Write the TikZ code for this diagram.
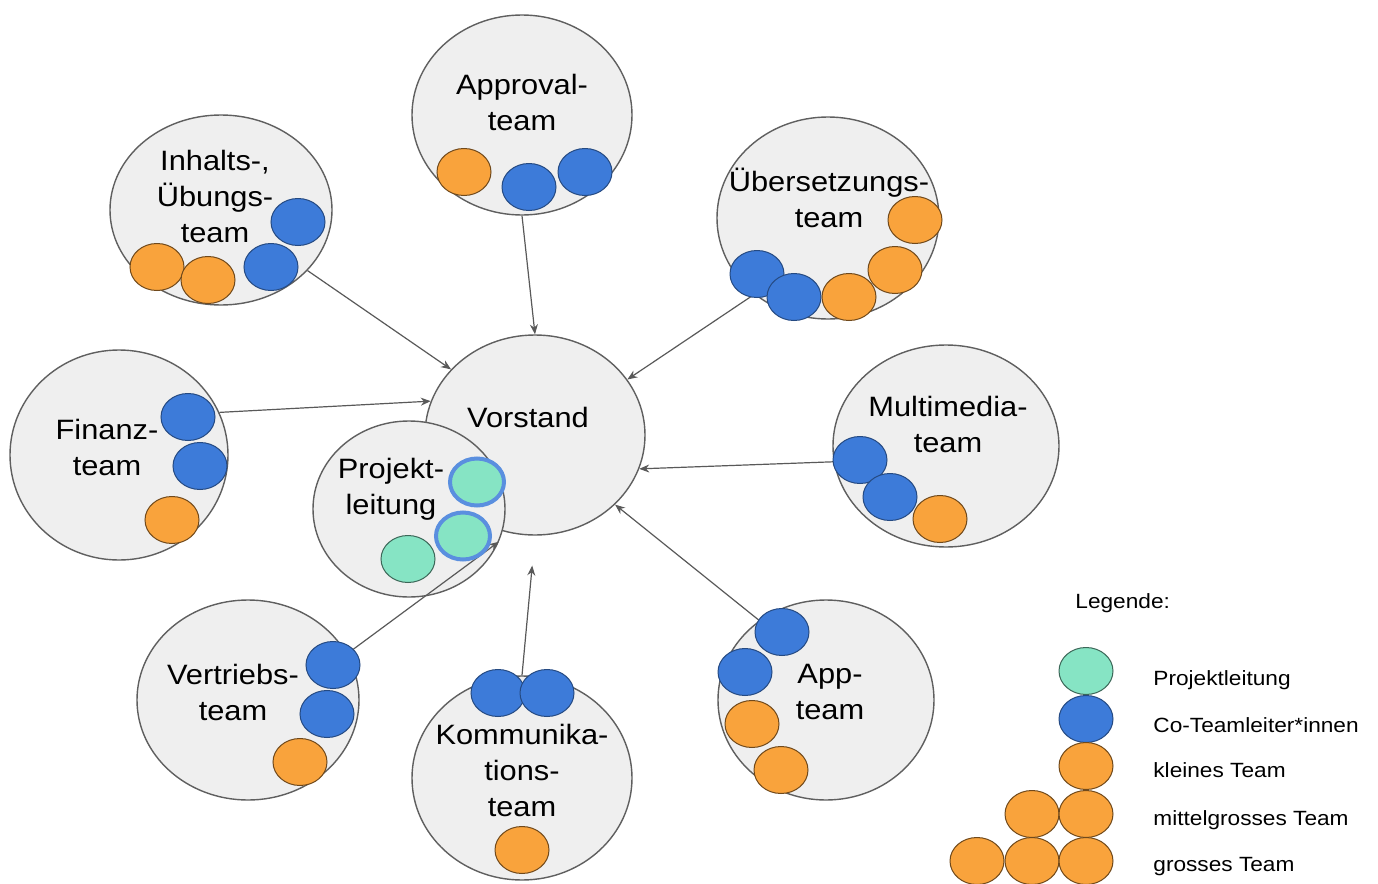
\documentclass[tikz,border=0pt]{standalone}
\usepackage{fontspec}
\setmainfont{Liberation Sans}[FakeStretch=1.1]
\usetikzlibrary{shapes.geometric,arrows.meta}

\definecolor{teamgrau}{HTML}{EFEFEF}
\definecolor{randgrau}{HTML}{5F5F5F}
\definecolor{pfeilgrau}{HTML}{595959}
\definecolor{orangeteam}{HTML}{F9A33C}
\definecolor{blauleiter}{HTML}{3D7BD9}
\definecolor{gruenpl}{HTML}{86E4C4}

\tikzset{
  team/.style={ellipse, draw=randgrau, fill=teamgrau, line width=0.7pt, inner sep=0pt},
  punkt/.style={ellipse, minimum width=27pt, minimum height=23.5pt, inner sep=0pt, line width=0.5pt},
  klein/.style={punkt, fill=orangeteam, draw=orangeteam!45!black},
  coleiter/.style={punkt, fill=blauleiter, draw=blauleiter!60!black},
  projekt/.style={punkt, fill=gruenpl, draw=gruenpl!45!black},
  projektco/.style={punkt, fill=gruenpl, draw=blauleiter!85!white, line width=2pt},
  titel/.style={align=center, font=\fontsize{14}{18}\selectfont},
  legtext/.style={anchor=base west, inner xsep=0pt, font=\fontsize{10.3}{13}\selectfont},
  pfeil/.style={draw=pfeilgrau, line width=0.6pt, -{Stealth[length=5pt,width=4pt]}}
}

\begin{document}
\begin{tikzpicture}[x=0.5pt,y=-0.5pt]
  \useasboundingbox (0,0) rectangle (1378,884);

  % Teams
  \node[team, minimum width=110pt, minimum height=100pt] (approval) at (522,115) {};
  \node[team, minimum width=111pt, minimum height=95pt] (inhalt) at (221,210) {};
  \node[team, minimum width=111pt, minimum height=101pt] (uebersetzung) at (828,218) {};
  \node[team, minimum width=109pt, minimum height=105pt] (finanz) at (119,455) {};
  \node[team, minimum width=113pt, minimum height=101pt] (multimedia) at (946,446) {};
  \node[team, minimum width=111pt, minimum height=100pt] (vertrieb) at (248,700) {};
  \node[team, minimum width=110pt, minimum height=102pt] (kommunikation) at (522,778) {};
  \node[team, minimum width=108pt, minimum height=100pt] (app) at (826,700) {};
  \node[team, minimum width=110pt, minimum height=100pt] (vorstand) at (535,435) {};
  \node[team, minimum width=96pt, minimum height=88pt] (projekt) at (409,509) {};

  % Pfeile zum Vorstand
  \draw[pfeil] (approval.south) -- (vorstand.north);
  \draw[pfeil] (inhalt.-35) -- (vorstand.142);
  \draw[pfeil] (uebersetzung.226) -- (vorstand.31);
  \draw[pfeil] (finanz.23) -- (vorstand.162);
  \draw[pfeil] (multimedia.188) -- (vorstand.342);
  \draw[pfeil] (app.130) -- (vorstand.319);
  \draw[pfeil, shorten >=15pt] (kommunikation.north) -- (vorstand.south);
  \draw[pfeil] (vertrieb.25) -- (projekt.-20);

  % Mitglieder
  \node[klein] (approval-k1) at (464,172) {};
  \foreach \x/\y [count=\i] in {529/187, 585/172}
    \node[coleiter] (approval-c\i) at (\x,\y) {};

  \foreach \x/\y [count=\i] in {157/267, 208/280}
    \node[klein] (inhalt-k\i) at (\x,\y) {};
  \foreach \x/\y [count=\i] in {298/222, 271/267}
    \node[coleiter] (inhalt-c\i) at (\x,\y) {};

  \foreach \x/\y [count=\i] in {757/274, 794/297}
    \node[coleiter] (uebersetzung-c\i) at (\x,\y) {};
  \foreach \x/\y [count=\i] in {849/297, 895/270, 915/220}
    \node[klein] (uebersetzung-k\i) at (\x,\y) {};

  \foreach \x/\y [count=\i] in {188/417, 200/466}
    \node[coleiter] (finanz-c\i) at (\x,\y) {};
  \node[klein] (finanz-k1) at (172,520) {};

  \foreach \x/\y [count=\i] in {860/460, 890/497}
    \node[coleiter] (multimedia-c\i) at (\x,\y) {};
  \node[klein] (multimedia-k1) at (940,519) {};

  \node[projekt] (projekt-p1) at (408,559) {};
  \node[projektco] (projekt-c1) at (477,482) {};
  \node[projektco] (projekt-c2) at (463,536) {};

  \foreach \x/\y [count=\i] in {333/665, 327/714}
    \node[coleiter] (vertrieb-c\i) at (\x,\y) {};
  \node[klein] (vertrieb-k1) at (300,762) {};

  \foreach \x/\y [count=\i] in {498/693, 547/693}
    \node[coleiter] (kommunikation-c\i) at (\x,\y) {};
  \node[klein] (kommunikation-k1) at (522,850) {};

  \foreach \x/\y [count=\i] in {782/632, 745/672}
    \node[coleiter] (app-c\i) at (\x,\y) {};
  \foreach \x/\y [count=\i] in {752/724, 781/770}
    \node[klein] (app-k\i) at (\x,\y) {};

  % Beschriftungen
  \node[titel] (approval-text) at (522,102) {Approval-\\team};
  \node[titel] (inhalt-text) at (215,196) {Inhalts-,\\Übungs-\\team};
  \node[titel] (uebersetzung-text) at (829,198) {Übersetzungs-\\team};
  \node[titel] (finanz-text) at (107,447) {Finanz-\\team};
  \node[titel] (vorstand-text) at (528,417) {Vorstand};
  \node[titel] (projekt-text) at (391,489) {Projekt-\\leitung};
  \node[titel] (multimedia-text) at (948,424) {Multimedia-\\team};
  \node[titel] (vertrieb-text) at (233,692) {Vertriebs-\\team};
  \node[titel] (kommunikation-text) at (522,770) {Kommunika-\\tions-\\team};
  \node[titel] (app-text) at (830,692) {App-\\team};

  % Legende
  \node[legtext] (legende) at (1075,608) {Legende:};
  \node[projekt] (leg-p) at (1086,671) {};
  \node[coleiter] (leg-c) at (1086,719) {};
  \node[klein] (leg-k) at (1086,766) {};
  \foreach \x [count=\i] in {1032,1086}
    \node[klein] (leg-m\i) at (\x,814) {};
  \foreach \x [count=\i] in {977,1032,1086}
    \node[klein] (leg-g\i) at (\x,861) {};
  \node[legtext] (leg-p-text) at (1153,685) {Projektleitung};
  \node[legtext] (leg-c-text) at (1153,732) {Co-Teamleiter*innen};
  \node[legtext] (leg-k-text) at (1153,777) {kleines Team};
  \node[legtext] (leg-m-text) at (1153,825) {mittelgrosses Team};
  \node[legtext] (leg-g-text) at (1153,871) {grosses Team};
\end{tikzpicture}
\end{document}
